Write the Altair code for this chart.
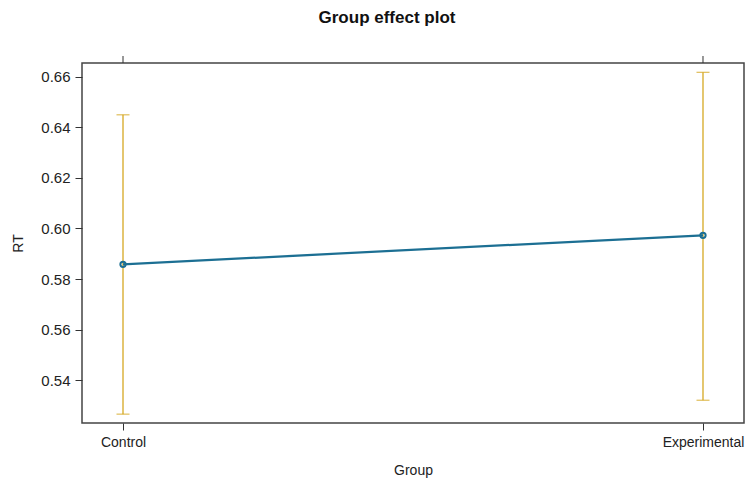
import altair as alt
import pandas as pd

groups = ["Control", "Experimental"]
fit = [0.5858, 0.5973]
lower = [0.5265, 0.5320]
upper = [0.6450, 0.6618]

df = pd.DataFrame({"Group": groups, "RT": fit, "lower": lower, "upper": upper})

FONT = "Liberation Sans"
LINE = "#1c6f93"
CI = "#d6a823"

xscale = alt.Scale(type="point", domain=groups, padding=0.0707)
yscale = alt.Scale(domain=[0.523, 0.6655], nice=False, zero=False)

xaxis = alt.Axis(title="Group", labelAngle=0, tickSize=7, tickColor="#333", tickWidth=1,
                 labelPadding=5, labelFontSize=14, labelColor="#222", labelFont=FONT,
                 titleFontSize=14, titleFont=FONT, titleFontWeight="normal", titleColor="#222",
                 titleX=331, titleY=47, titleBaseline="middle", domain=False, grid=False)
yaxis = alt.Axis(title="RT", values=[0.54, 0.56, 0.58, 0.60, 0.62, 0.64, 0.66], format=".2f",
                 tickSize=7, tickColor="#333", tickWidth=1, labelPadding=5,
                 labelFontSize=15, labelColor="#222", labelFont=FONT,
                 titleFontSize=14, titleFont=FONT, titleFontWeight="normal", titleColor="#222",
                 titleX=-64, titleY=180, titleAngle=-90, titleAlign="center",
                 titleBaseline="middle", domain=False, grid=False)

base = alt.Chart(df)

bars = base.mark_rule(color=CI, strokeWidth=1.3).encode(
    x=alt.X("Group:N", scale=xscale, axis=xaxis, sort=groups),
    y=alt.Y("lower:Q", scale=yscale, axis=yaxis),
    y2="upper:Q",
)
cap_lo = base.mark_tick(color=CI, size=13, thickness=1.3, orient="horizontal").encode(
    x=alt.X("Group:N", scale=xscale, sort=groups), y=alt.Y("lower:Q", scale=yscale))
cap_hi = base.mark_tick(color=CI, size=13, thickness=1.3, orient="horizontal").encode(
    x=alt.X("Group:N", scale=xscale, sort=groups), y=alt.Y("upper:Q", scale=yscale))
line = base.mark_line(color=LINE, strokeWidth=2.2).encode(
    x=alt.X("Group:N", scale=xscale, sort=groups), y=alt.Y("RT:Q", scale=yscale))
pts = base.mark_point(color=LINE, size=28, strokeWidth=2, filled=False, opacity=1).encode(
    x=alt.X("Group:N", scale=xscale, sort=groups), y=alt.Y("RT:Q", scale=yscale))
top_ticks = base.mark_rule(color="#333", strokeWidth=1).encode(
    x=alt.X("Group:N", scale=xscale, sort=groups), y=alt.value(-7), y2=alt.value(0))

chart = alt.layer(bars, cap_lo, cap_hi, line, pts, top_ticks).properties(
    width=662, height=360,
    title=alt.TitleParams("Group effect plot", font=FONT, fontSize=17, fontWeight="bold",
                          color="#111", anchor="middle", frame="group", dx=-26, offset=29),
    autosize=alt.AutoSizeParams(type="none"),
    padding={"left": 82, "top": 63, "right": 1, "bottom": 57},
    background="white",
).configure_view(stroke="#444", strokeWidth=1.5)

chart.save("out.html", embed_options={"renderer": "svg", "actions": False})
